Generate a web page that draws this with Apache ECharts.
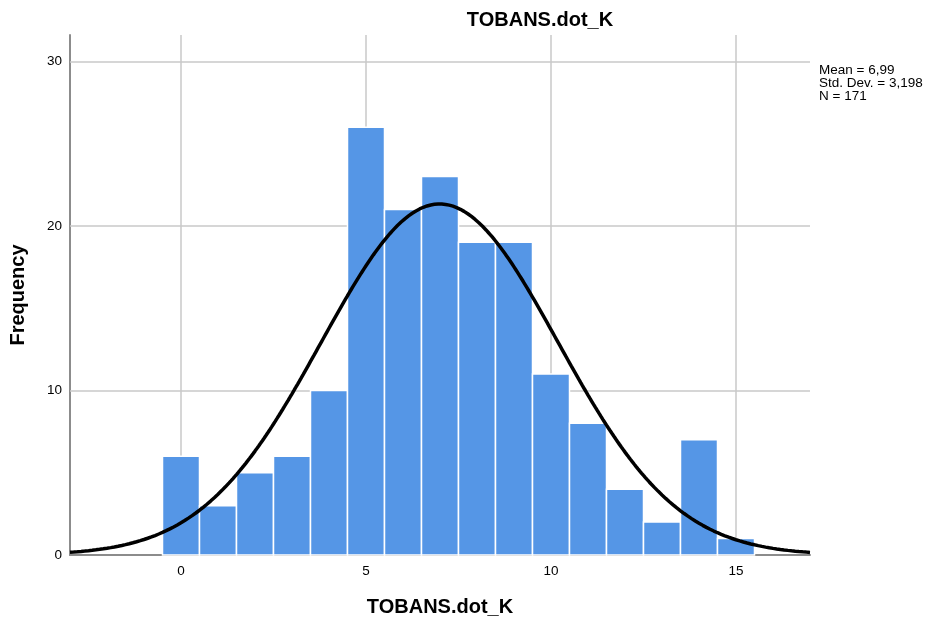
<!DOCTYPE html>
<html>
<head>
<meta charset="utf-8">
<script src="https://cdn.jsdelivr.net/npm/echarts@6/dist/echarts.min.js"></script>
<style>
  html, body { margin: 0; padding: 0; background: #fff; }
  #chart { width: 929px; height: 625px; }
</style>
</head>
<body>
<div id="chart"></div>
<script>
// Histogram of TOBANS.dot_K with a fitted normal curve
const binCenters = [0, 1, 2, 3, 4, 5, 6, 7, 8, 9, 10, 11, 12, 13, 14, 15];
const frequencies = [6, 3, 5, 6, 10, 26, 21, 23, 19, 19, 11, 8, 4, 2, 7, 1];
const xTicks = [0, 5, 10, 15];
const yTicks = [0, 10, 20, 30];
const statMean = 6.99;
const statSd = 3.198;
const statN = 171;
const binWidth = 1;
const xMin = -3, xMax = 17, yMax = 31.6;

// Normal density scaled to counts, from the summary statistics
const curve = [];
for (let i = 0; i <= 400; i++) {
  const x = xMin + (xMax - xMin) * i / 400;
  const z = (x - statMean) / statSd;
  const y = statN * binWidth * Math.exp(-0.5 * z * z) / (statSd * Math.sqrt(2 * Math.PI));
  curve.push([x, y]);
}

const chart = echarts.init(document.getElementById('chart'));
const font = 'Liberation Sans, Arial, sans-serif';
const gridColor = '#c8c8c8';
const nameStyle = { fontFamily: font, fontSize: 20, fontWeight: 'bold', color: '#000' };

chart.setOption({
  animation: false,
  title: {
    text: 'TOBANS.dot_K',
    left: 535, top: 5, textAlign: 'center',
    textStyle: nameStyle
  },
  graphic: [{
    type: 'text', left: 819, top: 63,
    style: {
      text: 'Mean = 6,99\nStd. Dev. = 3,198\nN = 171',
      fontFamily: font, fontSize: 13.5, lineHeight: 13, fill: '#000'
    }
  }],
  grid: { left: 70, right: 119, top: 35, bottom: 70, containLabel: false },
  xAxis: {
    type: 'value', min: xMin, max: xMax, interval: 1,
    name: 'TOBANS.dot_K', nameLocation: 'middle', nameGap: 42,
    nameTextStyle: nameStyle,
    axisLine: { show: true, onZero: false, lineStyle: { color: '#8c8c8c', width: 2 } },
    axisTick: { show: false },
    splitLine: { show: false },
    axisLabel: {
      fontFamily: font, fontSize: 13.5, color: '#000', margin: 9,
      formatter: v => (xTicks.indexOf(v) >= 0 ? String(v) : '')
    }
  },
  yAxis: {
    type: 'value', min: 0, max: yMax, interval: 10,
    name: 'Frequency', nameLocation: 'middle', nameGap: 42, nameRotate: 90,
    nameTextStyle: nameStyle,
    axisLine: { show: true, onZero: false, lineStyle: { color: '#8c8c8c', width: 2 } },
    axisTick: { show: false },
    splitLine: { show: false },
    axisLabel: {
      fontFamily: font, fontSize: 13.5, color: '#000', margin: 8,
      formatter: v => (yTicks.indexOf(v) >= 0 ? String(v) : '')
    }
  },
  series: [
    {
      // grid lines behind the bars
      type: 'line', data: [], silent: true, z: 1,
      markLine: {
        z: 1, silent: true, symbol: 'none', label: { show: false },
        lineStyle: { color: gridColor, width: 1.5, type: 'solid' },
        data: xTicks.map(v => ({ xAxis: v })).concat(yTicks.slice(1).map(v => ({ yAxis: v })))
      }
    },
    {
      type: 'custom', z: 2,
      data: binCenters.map((c, i) => [c, frequencies[i]]),
      renderItem: (params, api) => {
        const c = api.value(0), f = api.value(1);
        const p0 = api.coord([c - binWidth / 2, f]);
        const p1 = api.coord([c + binWidth / 2, 0]);
        return {
          type: 'rect',
          shape: { x: p0[0], y: p0[1], width: p1[0] - p0[0], height: p1[1] - p0[1] },
          style: { fill: '#5596e6', stroke: '#ffffff', lineWidth: 1.5 }
        };
      }
    },
    {
      type: 'line', data: curve, showSymbol: false, smooth: false, z: 3,
      lineStyle: { color: '#000', width: 3.5 }
    }
  ]
});
</script>
</body>
</html>
